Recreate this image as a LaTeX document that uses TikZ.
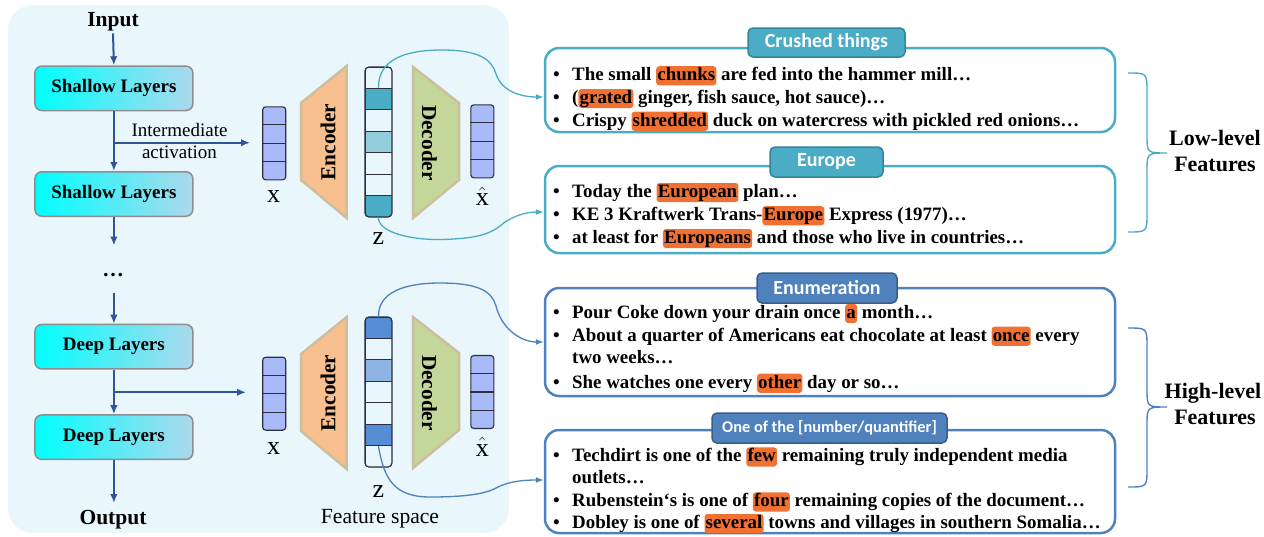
\documentclass[tikz,border=0pt]{standalone}
\usepackage{fontspec}
\setmainfont{Liberation Serif}
\newfontfamily\tabfont{Carlito}
\usetikzlibrary{arrows.meta,calc}
\definecolor{panelc}{HTML}{E9F6FC}
\definecolor{arrc}{HTML}{2F5597}
\definecolor{layerb}{HTML}{8E8E8E}
\definecolor{layerr}{HTML}{ADD8EC}
\definecolor{vecc}{HTML}{A8BBF8}
\definecolor{vecb}{HTML}{2E2E3E}
\definecolor{encc}{HTML}{F9C08F}
\definecolor{decc}{HTML}{C4D79B}
\definecolor{trapb}{HTML}{CDBE9C}
\definecolor{tealc}{HTML}{4BACC6}
\definecolor{tealL}{HTML}{92CDDC}
\definecolor{tealD}{HTML}{31859C}
\definecolor{bluec}{HTML}{4F81BD}
\definecolor{blueZ}{HTML}{558ED5}
\definecolor{blueL}{HTML}{8EB4E3}
\definecolor{blueD}{HTML}{385D8A}
\definecolor{hlc}{HTML}{F07132}
\newcommand\hl[1]{\tikz[baseline=(hlw.base)]\node[fill=hlc,rounded corners=3pt,inner xsep=1.2pt,inner ysep=0.8pt,text height=13.5pt,text depth=4pt](hlw){#1};}
\newcommand\bul{\makebox[19pt][l]{\textbullet}}
\begin{document}
\begin{tikzpicture}[x=1pt,y=-1pt,
  arr/.style={draw=arrc,line width=2pt,-{Latex[length=9pt,width=7.5pt]}},
  layer/.style={draw=layerb,line width=1.5pt,rounded corners=7pt,left color=cyan,right color=layerr,minimum width=158pt,minimum height=44.5pt,inner sep=0pt,font=\bfseries\fontsize{19}{22}\selectfont},
  big/.style={font=\bfseries\fontsize{21.5}{24}\selectfont,anchor=base,inner sep=2pt},
  reg/.style={font=\fontsize{19}{22}\selectfont,anchor=base,inner sep=1pt},
  vlab/.style={font=\fontsize{26}{28}\selectfont,anchor=base,inner sep=1pt},
  vecbox/.style={draw=vecb,fill=vecc,line width=1.1pt,rounded corners=3pt,minimum width=23pt,minimum height=73pt,inner sep=0pt},
  vecline/.style={draw=vecb,line width=1.1pt},
  zcell/.style={draw=vecb,line width=0.9pt,minimum width=27pt,minimum height=21.43pt,inner sep=0pt},
  trap/.style={draw=trapb,line width=2.5pt,line join=miter},
  traptext/.style={font=\bfseries\fontsize{21.3}{24}\selectfont,inner sep=0pt},
  tbox/.style={rounded corners=14pt,line width=2.5pt,minimum width=570pt,inner sep=0pt},
  tabbox/.style={rounded corners=5pt,line width=1.5pt,text=white,inner sep=0pt,font=\tabfont\bfseries\fontsize{20}{22}\selectfont},
  line/.style={anchor=base west,inner sep=0pt,font=\bfseries\fontsize{18.9}{22}\selectfont},
  curveT/.style={draw=tealc,line width=1.3pt,-{Latex[length=8pt,width=6pt]}},
  curveB/.style={draw=bluec,line width=1.3pt,-{Latex[length=8pt,width=6pt]}},
  brace/.style={line width=1.4pt},
  flab/.style={font=\bfseries\fontsize{22}{24}\selectfont,anchor=base,inner sep=1pt}
]
\useasboundingbox (0,0) rectangle (1264,536);
% panel
\fill[panelc,rounded corners=25pt] (8,5) rectangle (509,533);

% ---------- left column ----------
\node[big] (in) at (113,26.7) {Input};
\node[layer] (s1) at (113.9,88.3) {Shallow Layers};
\node[layer] (s2) at (113.9,194) {Shallow Layers};
\node[big] (dots) at (113,276) {\textbf{…}};
\node[layer] (d1) at (113.9,346.7) {Deep Layers};
\node[layer] (d2) at (113.9,437.2) {Deep Layers};
\node[big] (out) at (113,524) {Output};

\coordinate (b1) at (113.9,142.7);
\coordinate (e1) at (250,142.7);
\coordinate (c245) at (113.9,245.5);
\coordinate (c292) at (113.9,292.5);
\coordinate (b2) at (113.9,392.3);
\coordinate (e2) at (246,392.3);
\coordinate (c503) at (113.9,503);

\draw[arr] (in.south) -- (s1.north);
\draw[arr] (s1.south) -- (s2.north);
\draw[arr] (b1) -- (e1);
\draw[arr] (s2.south) -- (c245);
\draw[arr] (c292) -- (d1.north);
\draw[arr] (d1.south) -- (d2.north);
\draw[arr] (b2) -- (e2);
\draw[arr] (d2.south) -- (c503);

\node[reg] (im1) at (179.5,136.7) {Intermediate};
\node[reg] (im2) at (179.5,158.5) {activation};

% ---------- upper autoencoder ----------
\node[vecbox] (xu) at (274.2,143.3) {};
\foreach \f in {0.25,0.5,0.75}
  \draw[vecline] ($(xu.north west)!\f!(xu.south west)$) -- ($(xu.north east)!\f!(xu.south east)$);
\node[vlab] (xul) at (273.7,202.7) {x};

\filldraw[trap,fill=encc] (301,103) -- (346.7,66) -- (346.7,218) -- (301,180) -- cycle;
\node[traptext,rotate=90] (encu) at (328,142) {Encoder};
\filldraw[trap,fill=decc] (413,67) -- (459,103) -- (459,180) -- (413,218) -- cycle;
\node[traptext,rotate=-90] (decu) at (429.5,143) {Decoder};

\begin{scope}
  \clip[rounded corners=4pt] (365,67) rectangle (392,217);
  \foreach \i/\c in {1/none,2/tealc,3/none,4/tealL,5/none,6/none,7/tealc}
    \node[zcell,fill=\c] (zu\i) at (378.5,{67+21.43*(\i-0.5)}) {};
\end{scope}
\draw[draw=vecb,line width=1.2pt,rounded corners=4pt] (365,67) rectangle (392,217);
\node[vlab] (zul) at (378.5,244) {z};

\node[vecbox] (xhu) at (482.3,141.3) {};
\foreach \f in {0.25,0.5,0.75}
  \draw[vecline] ($(xhu.north west)!\f!(xhu.south west)$) -- ($(xhu.north east)!\f!(xhu.south east)$);
\node[vlab] (xhul) at (482.3,205.7) {$\hat{\mbox{x}}$};

% ---------- lower autoencoder ----------
\node[vecbox] (xl) at (274.2,393.7) {};
\foreach \f in {0.25,0.5,0.75}
  \draw[vecline] ($(xl.north west)!\f!(xl.south west)$) -- ($(xl.north east)!\f!(xl.south east)$);
\node[vlab] (xll) at (273.7,454) {x};

\filldraw[trap,fill=encc] (301,354) -- (346.7,317) -- (346.7,469) -- (301,431) -- cycle;
\node[traptext,rotate=90] (encl) at (328,393) {Encoder};
\filldraw[trap,fill=decc] (413,317) -- (459,353) -- (459,430) -- (413,468) -- cycle;
\node[traptext,rotate=-90] (decl) at (429.5,393) {Decoder};

\begin{scope}
  \clip[rounded corners=4pt] (365,317) rectangle (392,467);
  \foreach \i/\c in {1/blueZ,2/none,3/blueL,4/none,5/none,6/blueZ,7/none}
    \node[zcell,fill=\c] (zl\i) at (378.5,{317+21.43*(\i-0.5)}) {};
\end{scope}
\draw[draw=vecb,line width=1.2pt,rounded corners=4pt] (365,317) rectangle (392,467);
\node[vlab] (zll) at (378.5,497) {z};

\node[vecbox] (xhl) at (482.3,392) {};
\foreach \f in {0.25,0.5,0.75}
  \draw[vecline] ($(xhl.north west)!\f!(xhl.south west)$) -- ($(xhl.north east)!\f!(xhl.south east)$);
\node[vlab] (xhll) at (482.3,456) {$\hat{\mbox{x}}$};

\node[font=\fontsize{21.6}{24}\selectfont,anchor=base,inner sep=1pt] (fs) at (380,523) {Feature space};

% ---------- text boxes ----------
\node[tbox,draw=tealc,minimum height=84pt] (c1) at (830,90) {};
\node[tabbox,fill=tealc,draw=tealD,minimum width=157pt,minimum height=29pt] (t1) at (826.5,42.5) {Crushed things};
\node[line] (l11) at (553,80.5) {\bul The small \hl{chunks} are fed into the hammer mill…};
\node[line] (l12) at (553,103.3) {\bul (\hl{grated} ginger, fish sauce, hot sauce)…};
\node[line] (l13) at (553,126) {\bul Crispy \hl{shredded} duck on watercress with pickled red onions…};

\node[tbox,draw=tealc,minimum height=87pt] (c2) at (830,209.5) {};
\node[tabbox,fill=tealc,draw=tealD,minimum width=113pt,minimum height=30pt] (t2) at (826.5,162) {Europe};
\node[line] (l21) at (553,197.3) {\bul Today the \hl{European} plan…};
\node[line] (l22) at (553,220.5) {\bul KE 3 Kraftwerk Trans-\hl{Europe} Express (1977)…};
\node[line] (l23) at (553,243.3) {\bul at least for \hl{Europeans} and those who live in countries…};

\node[tbox,draw=bluec,minimum height=108pt] (c3) at (830,342) {};
\node[tabbox,fill=bluec,draw=blueD,minimum width=140pt,minimum height=30pt] (t3) at (827,288) {Enumeration};
\node[line] (l31) at (553,318.3) {\bul Pour Coke down your drain once \hl{a} month…};
\node[line] (l32) at (553,341) {\bul About a quarter of Americans eat chocolate at least \hl{once} every};
\node[line] (l33) at (572,363.3) {two weeks…};
\node[line] (l34) at (553,388) {\bul She watches one every \hl{other} day or so…};

\node[tbox,draw=bluec,minimum height=103pt] (c4) at (830,481.5) {};
\node[tabbox,fill=bluec,draw=blueD,minimum width=235pt,minimum height=30pt,font=\tabfont\bfseries\fontsize{16.4}{18}\selectfont] (t4) at (829.5,428) {One of the [number/quantifier]};
\node[line] (l41) at (553,461.7) {\bul Techdirt is one of the \hl{few} remaining truly independent media};
\node[line] (l42) at (572,483.3) {outlets…};
\node[line] (l43) at (553,506.7) {\bul Rubenstein‘s is one of \hl{four} remaining copies of the document…};
\node[line] (l44) at (553,528.3) {\bul Dobley is one of \hl{several} towns and villages in southern Somalia…};

% ---------- connectors from z to boxes ----------
\draw[curveT] (zu2.north) .. controls (378,58) and (408,50) .. (442,50)
  .. controls (480,50) and (492,60) .. (496,74)
  .. controls (502,92) and (522,97) .. ([yshift=-7pt]c1.west);
\draw[curveT] (zu7.south) .. controls (378,232) and (410,240) .. (440,239.5)
  .. controls (475,239) and (490,234) .. (500,226)
  .. controls (510,217) and (525,212) .. ([yshift=-2.5pt]c2.west);
\draw[curveB] (zl1.north) .. controls (378,292) and (405,283) .. (440,283)
  .. controls (480,283) and (492,292) .. (496,306)
  .. controls (502,330) and (522,342) .. (c3.west);
\draw[curveB] (zl6.south) .. controls (384,480) and (395,497) .. (430,497)
  .. controls (470,497) and (488,493) .. (498,487)
  .. controls (510,481) and (525,480) .. ([yshift=1.5pt]c4.west);

% ---------- braces ----------
\draw[brace,draw=tealc] (1128,73) .. controls (1147,73) .. (1147,92) -- (1147,135)
  .. controls (1147,153) .. (1167,153) .. controls (1147,153) .. (1147,171)
  -- (1147,213) .. controls (1147,232) .. (1128,232);
\draw[brace,draw=bluec] (1128,328) .. controls (1147,328) .. (1147,347) -- (1147,389)
  .. controls (1147,407) .. (1167,407) .. controls (1147,407) .. (1147,425)
  -- (1147,468) .. controls (1147,487) .. (1128,487);

\node[flab] (ll1) at (1215,145) {Low-level};
\node[flab] (ll2) at (1215,171.7) {Features};
\node[flab] (hl1) at (1213,398) {High-level};
\node[flab] (hl2) at (1215,424) {Features};
\end{tikzpicture}
\end{document}
